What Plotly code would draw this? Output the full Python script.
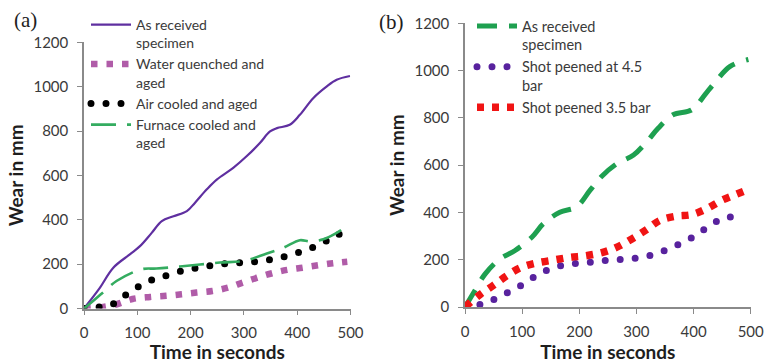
import plotly.graph_objects as go

# ---------------- Data ----------------
# Panel (a)
t_asrec_a = [0, 28, 55, 86, 105, 127, 146, 168, 193, 208, 230, 249, 280, 305, 330, 349, 362, 386, 405, 430, 455, 474, 499]
w_asrec_a = [0, 87, 184, 244, 281, 341, 394, 416, 439, 476, 536, 581, 634, 686, 746, 798, 813, 828, 873, 948, 1000, 1031, 1048]

t_water = [0, 30, 60, 91, 124, 154, 183, 211, 241, 270, 298, 325, 353, 381, 410, 440, 467, 494]
w_water = [0, 5, 18, 43, 52, 57, 64, 72, 79, 94, 117, 139, 159, 174, 184, 195, 204, 211]

t_air = [0, 30, 58, 80, 105, 131, 158, 188, 216, 246, 274, 304, 333, 363, 391, 420, 447, 473, 498]
w_air = [0, 7, 24, 64, 102, 132, 151, 172, 184, 196, 204, 207, 214, 226, 244, 266, 296, 326, 370]

t_furnace = [0, 17, 39, 61, 108, 136, 180, 255, 299, 343, 374, 405, 424, 449, 474, 499]
w_furnace = [0, 34, 79, 124, 177, 180, 189, 207, 214, 248, 274, 308, 302, 312, 341, 383]

# Panel (b)
t_asrec_b = [0, 15, 35, 61, 87, 117, 137, 166, 195, 219, 239, 265, 295, 318, 338, 364, 397, 420, 434, 464, 496]
w_asrec_b = [0, 60, 139, 203, 238, 295, 352, 401, 423, 494, 552, 605, 643, 699, 756, 813, 834, 898, 940, 1018, 1047]

t_sp45 = [0, 27, 55, 80, 105, 129, 156, 184, 212, 241, 270, 299, 327, 354, 381, 406, 430, 455, 485]
w_sp45 = [0, 11, 37, 68, 101, 139, 167, 182, 187, 196, 201, 207, 220, 243, 274, 306, 348, 376, 384]

t_sp35 = [0, 27, 50, 73, 98, 125, 156, 184, 212, 241, 265, 292, 317, 341, 369, 397, 423, 449, 475, 500]
w_sp35 = [0, 54, 92, 132, 167, 186, 199, 210, 217, 231, 252, 288, 326, 366, 384, 391, 416, 451, 477, 501]

x_ticks = [0, 100, 200, 300, 400, 500]
y_ticks = [0, 200, 400, 600, 800, 1000, 1200]

names_a = ["As received<br>specimen", "Water quenched and<br>aged", "Air cooled and aged", "Furnace cooled and<br>aged"]
names_b = ["As received<br>specimen", "Shot peened at 4.5<br>bar", "Shot peened 3.5 bar"]

# ---------------- Figure ----------------
FONT = "Lato"
W, H = 765, 363
PURPLE_SOLID = "rgb(95, 47, 160)"
PURPLE_DOT = "rgb(88, 34, 158)"
BLACK = "rgb(0, 0, 0)"

fig = go.Figure()

# Panel (a)
fig.add_trace(go.Scatter(x=t_asrec_a, y=w_asrec_a, name=names_a[0], mode="lines",
                         line=dict(color=PURPLE_SOLID, width=2.2, shape="spline"),
                         xaxis="x", yaxis="y", legend="legend"))
fig.add_trace(go.Scatter(x=t_water, y=w_water, name=names_a[1], mode="lines",
                         line=dict(color="rgb(176, 92, 168)", width=6.5, dash="6.5px,9px", shape="spline"),
                         xaxis="x", yaxis="y", legend="legend"))
fig.add_trace(go.Scatter(x=t_air, y=w_air, name=names_a[2], mode="lines",
                         line=dict(color=BLACK, width=7, dash="0px,15px", shape="spline"),
                         xaxis="x", yaxis="y", legend="legend"))
fig.add_trace(go.Scatter(x=t_furnace, y=w_furnace, name=names_a[3], mode="lines",
                         line=dict(color="rgb(52, 172, 96)", width=2.6, dash="25px,11px", shape="spline"),
                         xaxis="x", yaxis="y", legend="legend"))

# Panel (b)
fig.add_trace(go.Scatter(x=t_asrec_b, y=w_asrec_b, name=names_b[0], mode="lines",
                         line=dict(color="rgb(30, 160, 80)", width=5, dash="20px,12px", shape="spline"),
                         xaxis="x2", yaxis="y2", legend="legend2"))
fig.add_trace(go.Scatter(x=t_sp45, y=w_sp45, name=names_b[1], mode="lines",
                         line=dict(color=PURPLE_DOT, width=7, dash="0px,15px", shape="spline"),
                         xaxis="x2", yaxis="y2", legend="legend2"))
fig.add_trace(go.Scatter(x=t_sp35, y=w_sp35, name=names_b[2], mode="lines",
                         line=dict(color="rgb(240, 20, 20)", width=7.5, dash="7px,8px", shape="spline"),
                         xaxis="x2", yaxis="y2", legend="legend2"))

axis_common = dict(showgrid=False, zeroline=False, showline=True, linecolor="#8a8a8a", linewidth=1.5,
                   ticks="outside", ticklen=5, tickcolor="#8a8a8a", tickwidth=1.2,
                   tickfont=dict(family=FONT, size=15, color="#3a3a3a"), automargin=False)

xa = dict(axis_common, range=[0, 500], tickvals=x_ticks, ticklabelstandoff=5,
          title=dict(text="<b>Time in seconds</b>", font=dict(family=FONT, size=19, color="#1e1e1e"), standoff=7))
ya = dict(axis_common, range=[0, 1200], tickvals=y_ticks, ticklabelstandoff=6,
          title=dict(text="<b>Wear in mm</b>", font=dict(family=FONT, size=19, color="#1e1e1e"), standoff=5))

fig.update_layout(
    width=W, height=H,
    margin=dict(l=0, r=0, t=0, b=0),
    paper_bgcolor="white", plot_bgcolor="white",
    xaxis=dict(xa, domain=[84 / W, 350.5 / W], anchor="y"),
    yaxis=dict(ya, domain=[(H - 308.5) / H, (H - 42.3) / H], anchor="x"),
    xaxis2=dict(xa, domain=[465 / W, 750.7 / W], anchor="y2"),
    yaxis2=dict(ya, domain=[(H - 307) / H, (H - 23.3) / H], anchor="x2"),
    legend=dict(x=86 / W, y=1 - 9 / H, xanchor="left", yanchor="top", bgcolor="rgba(0,0,0,0)",
                font=dict(family=FONT, size=14, color="#3a3a3a"), itemwidth=40, valign="top",
                tracegroupgap=0),
    legend2=dict(x=472 / W, y=1 - 10 / H, xanchor="left", yanchor="top", bgcolor="rgba(0,0,0,0)",
                 font=dict(family=FONT, size=14.5, color="#3a3a3a"), itemwidth=40, valign="top",
                 tracegroupgap=0),
    annotations=[
        dict(text="(a)", x=25 / W, y=1 - 20 / H, xref="paper", yref="paper", showarrow=False,
             xanchor="center", yanchor="middle",
             font=dict(family="Liberation Serif", size=21, color="#1e1e1e")),
        dict(text="(b)", x=392 / W, y=1 - 22 / H, xref="paper", yref="paper", showarrow=False,
             xanchor="center", yanchor="middle",
             font=dict(family="Liberation Serif", size=21, color="#1e1e1e")),
    ],
    showlegend=True,
)

post = """
var st = document.createElement('style');
st.textContent = 'html, body {margin: 0 !important; padding: 0 !important; overflow: hidden;} ' +
  'path.js-line[style*="rgb(0, 0, 0)"], path.js-line[style*="rgb(88, 34, 158)"] {stroke-linecap: round !important;}';
document.head.appendChild(st);
"""

fig.write_html("out.html", post_script=post, config={"displayModeBar": False})
